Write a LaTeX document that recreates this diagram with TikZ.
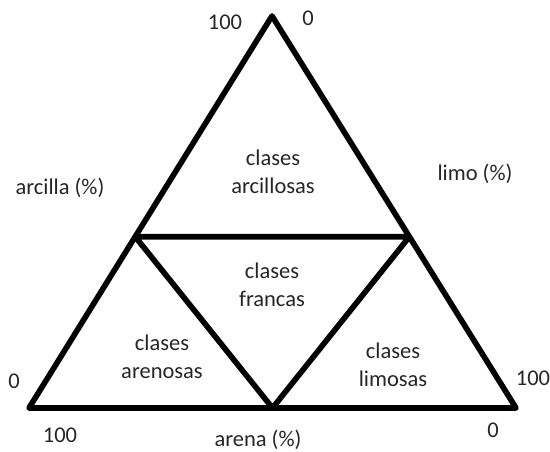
\documentclass[tikz,border=0pt]{standalone}
\usepackage{fontspec}
\setmainfont{Carlito}
\usetikzlibrary{positioning,calc}

\begin{document}
\begin{tikzpicture}[x=0.02cm,y=-0.02cm,
			line join=round,
			side/.style={line width=3.2pt,line cap=round},
			every node/.style={
				align=center,
				inner sep=1pt,
				text=black!85,
				font=\fontsize{12.8}{16.2}\selectfont
			}]
			
			\useasboundingbox (0,0) rectangle (550,452);
			
			\coordinate (top) at (272,16);
			
			\coordinate (bl) at (29,408);
			
			\coordinate (br) at (516,408);
			
			\coordinate (ml) at ($(top)!0.563!(bl)$);
			
			\coordinate (mr) at ($(top)!0.563!(br)$);
			
			\coordinate (mb) at ($(bl)!0.5!(br)$);
			
			\draw[side](top)--(bl)--(br)--cycle;
			
			\draw[side](ml)--(mr)--(mb)--cycle;
			
			\node (arcillosas) at (273,172){clases\\arcillosas};
			
			\node (francas) at (272,285){clases\\francas};
			
			\node (arenosas) at (162,357){clases\\arenosas};
			
			\node (limosas) at (393,365){clases\\limosas};
			
			\node (arcilla) at (60,188){arcilla (\%)};
			
			\node (limo) at (475,174){limo (\%)};
			
			\node (arena) at (258,440){arena (\%)};
			
			\node (top100) at (225,22){100};
			
			\node (top0) at (308,18){0};
			
			\node (left0) at (14,381){0};
			
			\node (right100) at (533,378){100};
			
			\node (bot100) at (60,435){100};
			
			\node (bot0) at (493,430){0};
			
		\end{tikzpicture}
\end{document}
